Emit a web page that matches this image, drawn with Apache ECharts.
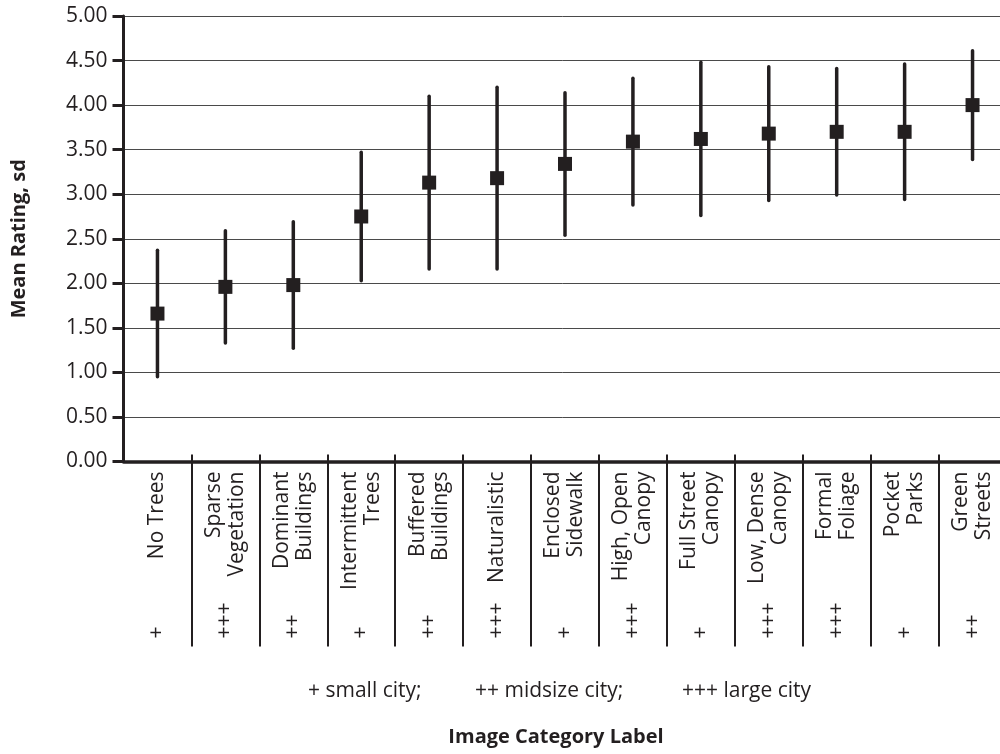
<!DOCTYPE html>
<html>
<head>
<meta charset="utf-8">
<script src="https://cdn.jsdelivr.net/npm/echarts@6/dist/echarts.min.js"></script>
<style>
  html, body { margin: 0; padding: 0; background: #ffffff; }
  #chart { width: 1000px; height: 754px; }
</style>
</head>
<body>
<div id="chart"></div>
<script>
// Image categories, ordered by mean rating
const categories = [
  'No Trees', 'Sparse\nVegetation', 'Dominant\nBuildings', 'Intermittent\nTrees',
  'Buffered\nBuildings', 'Naturalistic', 'Enclosed\nSidewalk', 'High, Open\nCanopy',
  'Full Street\nCanopy', 'Low, Dense\nCanopy', 'Formal\nFoliage', 'Pocket\nParks',
  'Green\nStreets'
];
// City size where each image set was taken
const citySize = ['+', '+++', '++', '+', '++', '+++', '+', '+++', '+', '+++', '+++', '+', '++'];
// Mean rating and standard deviation per category
const means = [1.66, 1.96, 1.98, 2.75, 3.13, 3.18, 3.34, 3.59, 3.62, 3.68, 3.70, 3.70, 4.00];
const sds   = [0.71, 0.63, 0.71, 0.72, 0.97, 1.02, 0.80, 0.71, 0.86, 0.75, 0.71, 0.76, 0.61];
// Value axis ticks
const yMin = 0, yMax = 5, yStep = 0.5;

const ink = '#231f20';
const font = '"Open Sans", "Noto Sans", sans-serif';

const errorData = means.map((m, i) => [i, m + sds[i], m - sds[i]]);
const meanData = means.map((m, i) => [i, m]);

const chart = echarts.init(document.getElementById('chart'), null, { renderer: 'canvas' });

chart.setOption({
  backgroundColor: '#ffffff',
  animation: false,
  textStyle: { fontFamily: font, color: ink },
  grid: {
    left: 123.5, right: -6.5, top: 16, bottom: 292.5,
    containLabel: false, outerBoundsMode: 'none'
  },
  xAxis: [
    {
      type: 'category',
      data: categories,
      position: 'bottom',
      axisLine: { show: true, lineStyle: { color: ink, width: 3.5 } },
      axisTick: { show: true, inside: true, length: 7, lineStyle: { color: ink, width: 2 } },
      axisLabel: {
        interval: 0, rotate: 90, margin: 10,
        fontFamily: font, fontSize: 21, lineHeight: 23, color: ink
      },
      splitLine: { show: false }
    },
    {
      type: 'category',
      data: citySize,
      position: 'bottom',
      offset: 0,
      axisLine: { show: false },
      axisTick: {
        show: true, inside: false, length: 185,
        interval: (i) => i > 0,
        lineStyle: { color: ink, width: 2 }
      },
      axisLabel: {
        interval: 0, rotate: 90, margin: 177, align: 'left',
        fontFamily: font, fontSize: 21, color: ink
      },
      splitLine: { show: false }
    }
  ],
  yAxis: {
    type: 'value',
    min: yMin, max: yMax, interval: yStep,
    name: 'Mean Rating, sd',
    nameLocation: 'middle',
    nameGap: 94,
    nameTextStyle: { fontFamily: font, fontSize: 20, fontWeight: 'bold', color: ink },
    axisLine: { show: true, lineStyle: { color: ink, width: 3 } },
    axisTick: { show: true, inside: false, length: 11, lineStyle: { color: ink, width: 3 } },
    axisLabel: {
      margin: 16, fontFamily: font, fontSize: 21, color: ink,
      formatter: (v) => v.toFixed(2)
    },
    splitLine: { show: true, lineStyle: { color: '#4a4a4a', width: 1 } }
  },
  graphic: [
    { type: 'text', x: 308, y: 691, style: { text: '+ small city;', font: '21px ' + font, fill: ink, textVerticalAlign: 'middle' } },
    { type: 'text', x: 475, y: 691, style: { text: '++ midsize city;', font: '21px ' + font, fill: ink, textVerticalAlign: 'middle' } },
    { type: 'text', x: 682, y: 691, style: { text: '+++ large city', font: '21px ' + font, fill: ink, textVerticalAlign: 'middle' } },
    { type: 'text', x: 556, y: 737, style: { text: 'Image Category Label', font: 'bold 20px ' + font, fill: ink, textAlign: 'center', textVerticalAlign: 'middle' } }
  ],
  series: [
    {
      name: 'sd',
      type: 'custom',
      xAxisIndex: 0,
      data: errorData,
      z: 2,
      renderItem: (params, api) => {
        const i = api.value(0);
        const hi = api.coord([i, api.value(1)]);
        const lo = api.coord([i, api.value(2)]);
        return {
          type: 'line',
          shape: { x1: hi[0], y1: hi[1], x2: lo[0], y2: lo[1] },
          style: { stroke: ink, lineWidth: 3.5, lineCap: 'round' }
        };
      }
    },
    {
      name: 'Mean',
      type: 'scatter',
      xAxisIndex: 0,
      data: meanData,
      symbol: 'rect',
      symbolSize: 14,
      itemStyle: { color: ink, opacity: 1 },
      z: 3
    }
  ]
});
</script>
</body>
</html>
